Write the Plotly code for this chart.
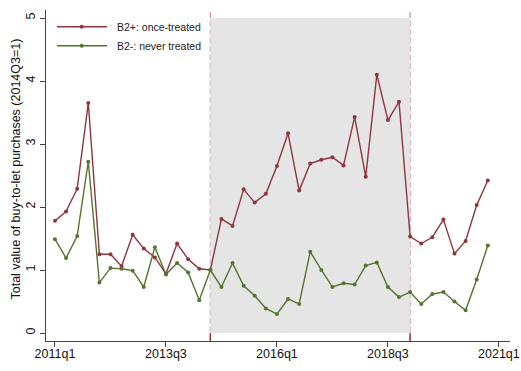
import plotly.graph_objects as go

# Quarterly buy-to-let purchase values, indexed to 2014Q3 = 1
quarters = [f"{y}q{q}" for y in range(2011, 2021) for q in range(1, 5)]

treated = [1.78, 1.93, 2.29, 3.65, 1.25, 1.25, 1.06, 1.56, 1.34, 1.20,
           0.94, 1.42, 1.17, 1.02, 1.00, 1.81, 1.70, 2.28, 2.07, 2.21,
           2.65, 3.17, 2.26, 2.69, 2.75, 2.79, 2.66, 3.43, 2.48, 4.10,
           3.38, 3.67, 1.53, 1.42, 1.52, 1.80, 1.26, 1.46, 2.03, 2.42]

never_treated = [1.49, 1.19, 1.54, 2.72, 0.80, 1.03, 1.02, 0.99, 0.73, 1.36,
                 0.93, 1.11, 0.96, 0.52, 1.00, 0.73, 1.11, 0.75, 0.59, 0.39,
                 0.30, 0.54, 0.46, 1.29, 1.00, 0.73, 0.79, 0.77, 1.07, 1.12,
                 0.73, 0.57, 0.65, 0.46, 0.62, 0.65, 0.50, 0.36, 0.85, 1.39]

tick_labels = ["2011q1", "2013q3", "2016q1", "2018q3", "2021q1"]
period_start = "2014q3"
period_end = "2019q1"
shade_top = 5


def qindex(label):
    """Quarter label such as '2014q3' -> number of quarters since 2011q1."""
    year, q = label.split("q")
    return (int(year) - 2011) * 4 + int(q) - 1


x = [qindex(q) for q in quarters]
tick_vals = [qindex(t) for t in tick_labels]
x_start, x_end = qindex(period_start), qindex(period_end)

MAROON = "rgb(144,53,59)"
GREEN = "rgb(85,117,47)"
FONT = "Liberation Sans, Arial, sans-serif"

fig = go.Figure()

fig.add_trace(go.Scatter(
    x=x, y=treated, mode="lines+markers", name="B2+: once-treated",
    line=dict(color=MAROON, width=1.4), marker=dict(color=MAROON, size=4),
    showlegend=False,
))
fig.add_trace(go.Scatter(
    x=x, y=never_treated, mode="lines+markers", name="B2-: never treated",
    line=dict(color=GREEN, width=1.4), marker=dict(color=GREEN, size=4),
    showlegend=False,
))

shapes = []
# shaded treatment window
shapes.append(dict(type="rect", xref="x", yref="y", x0=x_start, x1=x_end,
                   y0=0, y1=shade_top, fillcolor="rgb(229,229,229)",
                   line=dict(width=0), layer="below"))
for xv in (x_start, x_end):
    # white backing line with the dashed marker line on top
    shapes.append(dict(type="line", xref="x", yref="paper", x0=xv, x1=xv,
                       y0=0, y1=1, line=dict(color="white", width=1.6),
                       layer="below"))
    shapes.append(dict(type="line", xref="x", yref="paper", x0=xv, x1=xv,
                       y0=0, y1=1,
                       line=dict(color="rgb(212,160,166)", width=1.4,
                                 dash="6px,2.5px"),
                       layer="below"))
    # solid ends outside the shaded band
    shapes.append(dict(type="line", xref="x", yref="y", x0=xv, x1=xv,
                       y0=-0.13, y1=0, line=dict(color=MAROON, width=1.4),
                       layer="below"))

# legend drawn inside the plot, upper left
legend_items = [("B2+: once-treated", MAROON, 0.9495),
                ("B2-: never treated", GREEN, 0.892)]
annotations = []
for text, color, yy in legend_items:
    shapes.append(dict(type="line", xref="paper", yref="paper",
                       x0=0.0237, x1=0.1315, y0=yy, y1=yy,
                       line=dict(color=color, width=1.4)))
    shapes.append(dict(type="circle", xref="paper", yref="paper",
                       xsizemode="pixel", ysizemode="pixel",
                       xanchor=0.0769, yanchor=yy,
                       x0=-2, x1=2, y0=-2, y1=2,
                       fillcolor=color, line=dict(width=0)))
    annotations.append(dict(text=text, xref="paper", yref="paper",
                            x=0.1487, y=yy, xanchor="left", yanchor="middle",
                            showarrow=False,
                            font=dict(family=FONT, size=10.5, color="#222")))

# y-axis title
annotations.append(dict(text="Total value of buy-to-let purchases (2014Q3=1)",
                        xref="paper", yref="paper", x=-0.0657, y=0.5196,
                        xanchor="center", yanchor="middle", textangle=-90,
                        showarrow=False,
                        font=dict(family=FONT, size=12.5, color="#111")))

fig.update_layout(
    width=521, height=371,
    margin=dict(l=46, r=11, t=10, b=30, pad=0),
    paper_bgcolor="white", plot_bgcolor="white",
    font=dict(family=FONT, size=12.5, color="#111"),
    shapes=shapes, annotations=annotations,
    showlegend=False,
    xaxis=dict(
        range=[-0.81, 41.0], tickmode="array", tickvals=tick_vals,
        ticktext=tick_labels, ticks="outside", ticklen=5, tickwidth=1,
        tickcolor="#444", showline=True, linecolor="#444", linewidth=1,
        showgrid=False, zeroline=False, automargin=False,
        ticklabelstandoff=-4,
        tickfont=dict(family=FONT, size=12.5, color="#111"),
    ),
    yaxis=dict(
        range=[-0.127, 5.127], tickmode="array", tickvals=[0, 1, 2, 3, 4, 5],
        ticks="outside", ticklen=5, tickwidth=1, tickcolor="#444",
        showline=True, linecolor="#444", linewidth=1,
        showgrid=False, zeroline=False, tickangle=-90, automargin=False,
        tickfont=dict(family=FONT, size=12.5, color="#111"),
    ),
)

fig.write_html("out.html")
